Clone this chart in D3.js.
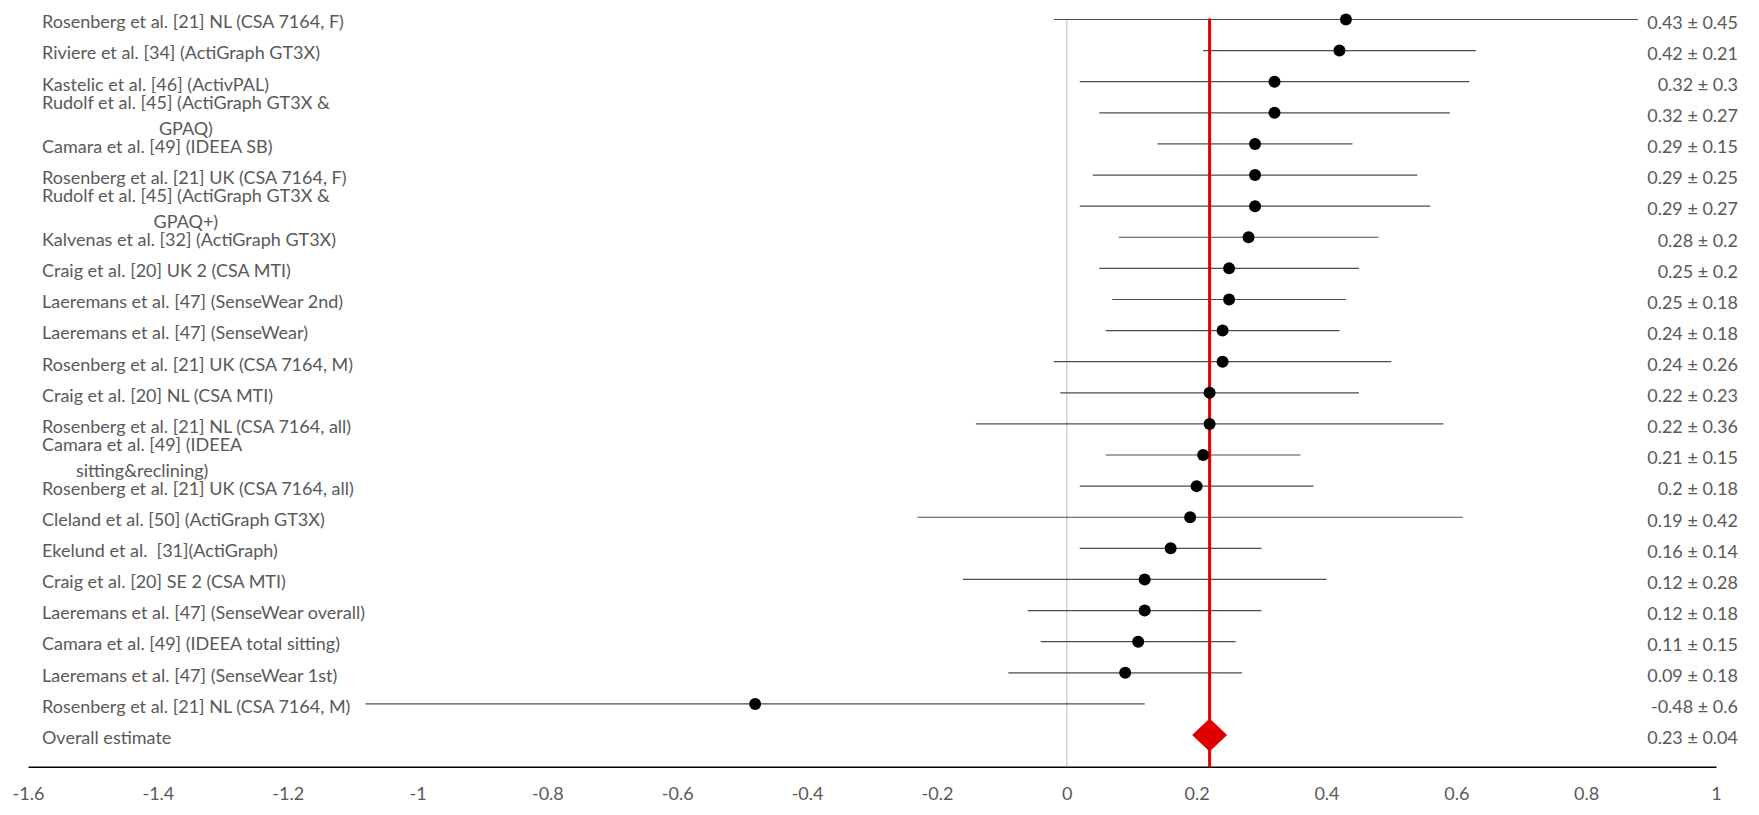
<!DOCTYPE html>
<html>
<head>
<meta charset="utf-8">
<script src="https://cdn.jsdelivr.net/npm/d3@7"></script>
<style>
  body { margin: 0; background: #fff; }
  text { font-family: Lato, "Open Sans", sans-serif; }
</style>
</head>
<body>
<div id="chart"></div>
<script>
// study labels, top to bottom ("\n" = wrapped label)
var studies = [
  "Rosenberg et al. [21] NL (CSA 7164, F)",
  "Riviere et al. [34] (ActiGraph GT3X)",
  "Kastelic et al. [46] (ActivPAL)",
  "Rudolf et al. [45] (ActiGraph GT3X &\nGPAQ)",
  "Camara et al. [49] (IDEEA SB)",
  "Rosenberg et al. [21] UK (CSA 7164, F)",
  "Rudolf et al. [45] (ActiGraph GT3X &\nGPAQ+)",
  "Kalvenas et al. [32] (ActiGraph GT3X)",
  "Craig et al. [20] UK 2 (CSA MTI)",
  "Laeremans et al. [47] (SenseWear 2nd)",
  "Laeremans et al. [47] (SenseWear)",
  "Rosenberg et al. [21] UK (CSA 7164, M)",
  "Craig et al. [20] NL (CSA MTI)",
  "Rosenberg et al. [21] NL (CSA 7164, all)",
  "Camara et al. [49] (IDEEA\nsitting&reclining)",
  "Rosenberg et al. [21] UK (CSA 7164, all)",
  "Cleland et al. [50] (ActiGraph GT3X)",
  "Ekelund et al.  [31](ActiGraph)",
  "Craig et al. [20] SE 2 (CSA MTI)",
  "Laeremans et al. [47] (SenseWear overall)",
  "Camara et al. [49] (IDEEA total sitting)",
  "Laeremans et al. [47] (SenseWear 1st)",
  "Rosenberg et al. [21] NL (CSA 7164, M)",
  "Overall estimate"
];

var means = [0.43, 0.42, 0.32, 0.32, 0.29, 0.29, 0.29, 0.28, 0.25, 0.25, 0.24, 0.24,
             0.22, 0.22, 0.21, 0.2, 0.19, 0.16, 0.12, 0.12, 0.11, 0.09, -0.48, 0.23];
var sds = [0.45, 0.21, 0.3, 0.27, 0.15, 0.25, 0.27, 0.2, 0.2, 0.18, 0.18, 0.26,
           0.23, 0.36, 0.15, 0.18, 0.42, 0.14, 0.28, 0.18, 0.15, 0.18, 0.6, 0.04];

// pooled estimate as it is plotted (diamond + red reference line)
var pooledPlotted = 0.22;

var tickValues = [-1.6, -1.4, -1.2, -1, -0.8, -0.6, -0.4, -0.2, 0, 0.2, 0.4, 0.6, 0.8, 1];
var tickLabels = ["-1.6", "-1.4", "-1.2", "-1", "-0.8", "-0.6", "-0.4", "-0.2", "0", "0.2", "0.4", "0.6", "0.8", "1"];

var width = 1759;
var height = 815;
var axisY = 766.7;
var textColor = "#595959";
var fontSize = "18px";

var svg = d3.select("#chart")
  .append("svg")
  .attr("width", width)
  .attr("height", height);

var x = d3.scaleLinear().domain([-1.6, 1]).range([28, 1716]);
var y = d3.scalePoint().domain(d3.range(studies.length)).range([19.5, 735]);

var last = studies.length - 1;
var rows = studies.map(function(s, i) {
  return { label: s, mean: means[i], sd: sds[i], i: i };
});

// zero line
svg.append("line")
  .attr("x1", x(0)).attr("x2", x(0))
  .attr("y1", y(0)).attr("y2", axisY)
  .attr("stroke", "#c9c9c9")
  .attr("stroke-width", 1.2);

// error bars
svg.selectAll(".bar")
  .data(rows.slice(0, last))
  .enter()
  .append("line")
  .attr("class", "bar")
  .attr("x1", function(d) { return x(d.mean - d.sd); })
  .attr("x2", function(d) { return x(d.mean + d.sd); })
  .attr("y1", function(d) { return y(d.i); })
  .attr("y2", function(d) { return y(d.i); })
  .attr("stroke", "#4d4d4d")
  .attr("stroke-width", 1.2);

// red reference line at pooled estimate
svg.append("line")
  .attr("x1", x(pooledPlotted)).attr("x2", x(pooledPlotted))
  .attr("y1", y(0) - 1).attr("y2", axisY)
  .attr("stroke", "#e00000")
  .attr("stroke-width", 3);

// study points
svg.selectAll(".dot")
  .data(rows.slice(0, last))
  .enter()
  .append("circle")
  .attr("class", "dot")
  .attr("cx", function(d) { return x(d.mean); })
  .attr("cy", function(d) { return y(d.i); })
  .attr("r", 6)
  .attr("fill", "#000");

// pooled diamond
var dx = 17.5, dy = 16.5;
var px = x(pooledPlotted), py = y(last);
svg.append("path")
  .attr("d", "M" + (px - dx) + "," + py + "L" + px + "," + (py - dy) +
             "L" + (px + dx) + "," + py + "L" + px + "," + (py + dy) + "Z")
  .attr("fill", "#e00000");

// left labels
var labels = svg.selectAll(".lab")
  .data(rows)
  .enter()
  .append("g")
  .attr("class", "lab")
  .attr("transform", function(d) { return "translate(42," + y(d.i) + ")"; });

labels.each(function(d) {
  var g = d3.select(this);
  var parts = d.label.split("\n");
  if (parts.length == 1) {
    g.append("text")
      .attr("y", 2.5)
      .attr("dy", "0.35em")
      .style("white-space", "pre")
      .style("font-size", fontSize)
      .attr("fill", textColor)
      .text(parts[0]);
  } else {
    var t1 = g.append("text")
      .attr("y", -10)
      .attr("dy", "0.35em")
      .style("font-size", fontSize)
      .attr("fill", textColor)
      .text(parts[0]);
    var w = t1.node().getComputedTextLength();
    g.append("text")
      .attr("x", w / 2)
      .attr("y", 15.5)
      .attr("dy", "0.35em")
      .attr("text-anchor", "middle")
      .style("font-size", fontSize)
      .attr("fill", textColor)
      .text(parts[1]);
  }
});

// right value labels
svg.selectAll(".val")
  .data(rows)
  .enter()
  .append("text")
  .attr("class", "val")
  .attr("x", 1738)
  .attr("y", function(d) { return y(d.i) + 3; })
  .attr("dy", "0.35em")
  .attr("text-anchor", "end")
  .style("font-size", fontSize)
  .attr("fill", textColor)
  .text(function(d) { return d.mean + " \u00b1 " + d.sd; });

// x axis
var axis = svg.append("g")
  .attr("transform", "translate(0," + axisY + ")")
  .call(d3.axisBottom(x)
    .tickValues(tickValues)
    .tickFormat(function(d, i) { return tickLabels[i]; })
    .tickSize(0)
    .tickPadding(21));

axis.select(".domain")
  .attr("stroke", "#000")
  .attr("stroke-width", 1.6);

axis.selectAll("text")
  .style("font-family", "Lato, sans-serif")
  .style("font-size", fontSize)
  .attr("fill", textColor);
</script>
</body>
</html>
